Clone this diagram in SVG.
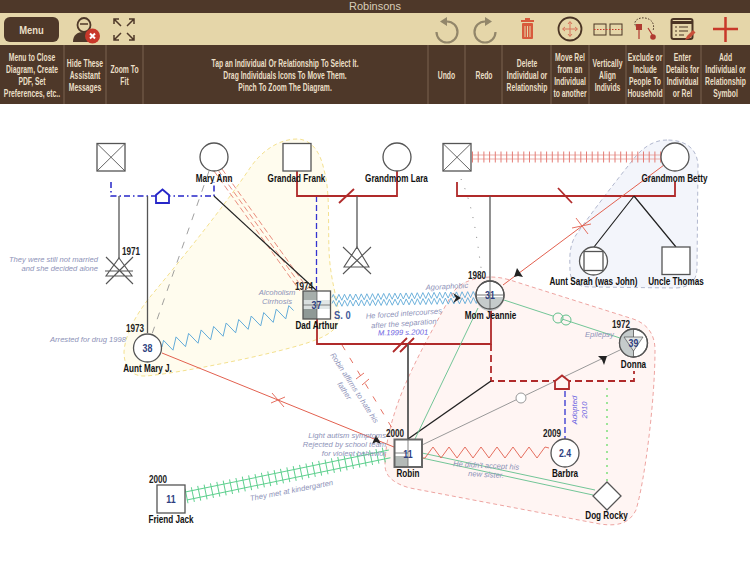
<svg xmlns="http://www.w3.org/2000/svg" width="750" height="563" viewBox="0 0 750 563">
<style>
text{font-family:"Liberation Sans",Arial,sans-serif}
.h{font-size:10px;font-weight:700;fill:#eadfc6;text-anchor:middle}
.l{font-size:11px;font-weight:700;fill:#111;text-anchor:middle}
.y{font-size:11px;font-weight:700;fill:#222}
.n{font-size:11px;font-weight:700;fill:#2f3f80;text-anchor:middle}
.c{font-size:7.6px;font-style:italic;fill:#8d92b8}
.s{fill:#fff;stroke:#555;stroke-width:1.3}
.x{stroke:#555;stroke-width:.9;fill:none}
.red{fill:none;stroke:#b02a2a;stroke-width:1.8}
.blk{fill:none;stroke:#222;stroke-width:1.2}
.gry{fill:none;stroke:#555;stroke-width:1.3}
.tip{fill:#222}
.wave{fill:none;stroke:#62abd8;stroke-width:.9}
</style>
<defs>
<path id="wv" d="M0 0l1.4-3l2.8 6l2.8-6l2.8 6l2.8-6l2.8 6l2.8-6l2.8 6l2.8-6l2.8 6l2.8-6l2.8 6l2.8-6l2.8 6l2.8-6l2.8 6l2.8-6l2.8 6l2.8-6l2.8 6l2.8-6l2.8 6l2.8-6l2.8 6l2.8-6l2.8 6l2.8-6l2.8 6l2.8-6l2.8 6l2.8-6l2.8 6l2.8-6l2.8 6l2.8-6l2.8 6l2.8-6l2.8 6l2.8-6l2.8 6l2.8-6l2.8 6l2.8-6l2.8 6l2.8-6l2.8 6l2.8-6l2.8 6l2.8-6l2.8 6l2.8-6l2.8 6l2.8-6"/>
</defs>
<rect width="750" height="563" fill="#fff"/>

<g id="toolbar">
<rect width="750" height="13" fill="#4e3829"/>
<text x="375" y="10" text-anchor="middle" font-size="11" fill="#d8cdb8">Robinsons</text>
<rect y="13" width="750" height="32" fill="#e5d6a9"/>
<rect y="45" width="750" height="59" fill="#4e3829"/>
<path d="M64 45V104M106 45V104M143 45V104M428 45V104M465 45V104M502 45V104M551 45V104M589 45V104M626 45V104M664 45V104M701 45V104" stroke="#7a6351" stroke-width="1"/>
<rect x="4" y="17" width="55" height="25" rx="6" fill="#4e3829"/>
<text transform="translate(31.500 34) scale(.82 1)" text-anchor="middle" font-size="11.500" font-weight="700" fill="#eadfc6">Menu</text>
<g>
<ellipse cx="84" cy="25" rx="6.500" ry="7" fill="#e5d6a9" stroke="#4e3829" stroke-width="1.800"/>
<path d="M80 24h8" stroke="#4e3829" stroke-width="1.500"/>
<path d="M73 42c0-7 4-10 11-10s11 3 11 10z" fill="#4e3829"/>
<circle cx="92.500" cy="36" r="7.500" fill="#c8382a"/>
<path d="M90 33.500l5 5M95 33.500l-5 5" stroke="#fff" stroke-width="2"/>
</g>
<path d="M114 19l7 7M114 24v-5h5M134 19l-7 7M134 24v-5h-5M114 40l7-7M114 35v5h5M134 40l-7-7M134 35v5h-5" stroke="#4e3829" stroke-width="1.500" fill="none"/>
<path d="M447 21.500A10.500 10.500 0 1 1 436.500 32M485 21.500A10.500 10.500 0 1 0 495.500 32" fill="none" stroke="#92866a" stroke-width="2.200"/>
<path d="M447 17v9l-7-4.500zM485 17v9l7-4.500z" fill="#92866a"/>
<rect x="522" y="23" width="11" height="16" rx="1" fill="#d85a3c"/>
<path d="M521 21h13M525 19h5" stroke="#d85a3c" stroke-width="2"/>
<path d="M525 26v11M527.500 26v11M530 26v11" stroke="#e5d6a9" stroke-width="1"/>
<circle cx="570" cy="29" r="11.500" fill="none" stroke="#4a3424" stroke-width="1.800"/>
<path d="M570 22v14M563 29h14M568 24l2-2.500l2 2.500M568 34l2 2.500l2-2.500M565 27l-2.500 2l2.500 2M575 27l2.500 2l-2.500 2" fill="none" stroke="#d8735a" stroke-width="1"/>
<rect x="594" y="24" width="12" height="11" fill="none" stroke="#4a3424"/>
<rect x="610" y="24" width="12" height="11" fill="none" stroke="#4a3424"/>
<path d="M594 29.500h28" stroke="#c8382a" stroke-dasharray="1.500 1.500"/>
<path d="M637 28c-6-7 2-11 8-10c7 1 10 6 8 13" fill="none" stroke="#4a3424" stroke-dasharray="1.500 1.500"/>
<rect x="636" y="24" width="6" height="6" fill="#b03a30"/>
<path d="M639 30v9M648 28l5 8" stroke="#b03a30" stroke-width="1.200"/>
<circle cx="653" cy="37" r="2.800" fill="#b03a30"/>
<rect x="671.500" y="19" width="21" height="20" rx="2" fill="#e5d6a9" stroke="#4a3424" stroke-width="2"/>
<path d="M671.500 22.500h21" stroke="#4a3424" stroke-width="3"/>
<path d="M675 27h2M679 27h9M675 31h2M679 31h9M675 35h2M679 35h5" stroke="#4a3424" stroke-width="1.200"/>
<path d="M685 40l2-4l6-6l2.500 2.500l-6 6z" fill="#c8503a"/>
<path d="M713 29h25M725.500 17v25" stroke="#c8382a" stroke-width="2.500"/>
<text class="h" transform="translate(32 60.500) scale(.68 1)">Menu to Close</text>
<text class="h" transform="translate(32 72.500) scale(.68 1)">Diagram, Create</text>
<text class="h" transform="translate(32 84.500) scale(.68 1)">PDF, Set</text>
<text class="h" transform="translate(32 96.500) scale(.68 1)">Preferences, etc..</text>
<text class="h" transform="translate(85 66.500) scale(.68 1)">Hide These</text>
<text class="h" transform="translate(85 78.500) scale(.68 1)">Assistant</text>
<text class="h" transform="translate(85 90.500) scale(.68 1)">Messages</text>
<text class="h" transform="translate(124.500 72.500) scale(.68 1)">Zoom To</text>
<text class="h" transform="translate(124.500 84.500) scale(.68 1)">Fit</text>
<text class="h" transform="translate(285 66.500) scale(.68 1)">Tap an Individual Or Relationship To Select It.</text>
<text class="h" transform="translate(285 78.500) scale(.68 1)">Drag Individuals Icons To Move Them.</text>
<text class="h" transform="translate(285 90.500) scale(.68 1)">Pinch To Zoom The Diagram.</text>
<text class="h" transform="translate(446.500 78.500) scale(.68 1)">Undo</text>
<text class="h" transform="translate(484 78.500) scale(.68 1)">Redo</text>
<text class="h" transform="translate(527 66.500) scale(.68 1)">Delete</text>
<text class="h" transform="translate(527 78.500) scale(.68 1)">Individual or</text>
<text class="h" transform="translate(527 90.500) scale(.68 1)">Relationship</text>
<text class="h" transform="translate(570 60.500) scale(.68 1)">Move Rel</text>
<text class="h" transform="translate(570 72.500) scale(.68 1)">from an</text>
<text class="h" transform="translate(570 84.500) scale(.68 1)">Individual</text>
<text class="h" transform="translate(570 96.500) scale(.68 1)">to another</text>
<text class="h" transform="translate(607.500 66.500) scale(.68 1)">Vertically</text>
<text class="h" transform="translate(607.500 78.500) scale(.68 1)">Align</text>
<text class="h" transform="translate(607.500 90.500) scale(.68 1)">Individs</text>
<text class="h" transform="translate(645 60.500) scale(.68 1)">Exclude or</text>
<text class="h" transform="translate(645 72.500) scale(.68 1)">Include</text>
<text class="h" transform="translate(645 84.500) scale(.68 1)">People To</text>
<text class="h" transform="translate(645 96.500) scale(.68 1)">Household</text>
<text class="h" transform="translate(682.500 60.500) scale(.68 1)">Enter</text>
<text class="h" transform="translate(682.500 72.500) scale(.68 1)">Details for</text>
<text class="h" transform="translate(682.500 84.500) scale(.68 1)">Individual</text>
<text class="h" transform="translate(682.500 96.500) scale(.68 1)">or Rel</text>
<text class="h" transform="translate(725.500 60.500) scale(.68 1)">Add</text>
<text class="h" transform="translate(725.500 72.500) scale(.68 1)">Individual or</text>
<text class="h" transform="translate(725.500 84.500) scale(.68 1)">Relationship</text>
<text class="h" transform="translate(725.500 96.500) scale(.68 1)">Symbol</text>
</g>

<g id="households">
<path d="M297 139C280 139 262 150 250 168C225 205 185 255 150 297C135 316 125 335 124 352C124 368 132 377 146 376C180 373 270 355 307 343C325 337 340 330 339 316C338 300 330 280 329 250C328 220 330 190 324 170C320 150 310 139 297 139Z" fill="#fffcee" stroke="#f2dc82" stroke-dasharray="4 3" stroke-width=".9"/>
<path d="M667 140C655 140 645 146 636 156C615 182 590 215 576 235C568 247 570 262 570 272C571 282 578 287 590 287L675 288C690 288 697 280 697 268L698 165C697 148 685 140 667 140Z" fill="#f3f5fb" stroke="#a9b0c8" stroke-dasharray="4 3" stroke-width=".9"/>
<path d="M490 277C470 278 458 284 452 294C435 325 418 355 405 385C395 408 385 440 385 465C385 477 395 484 410 488L600 524C620 527 630 522 636 510C645 480 655 400 655 350C655 332 645 322 630 318L510 280C503 278 497 277 490 277Z" fill="#fff5f3" stroke="#eb9a96" stroke-dasharray="4 3" stroke-width=".9"/>
</g>

<g id="connectors">
<path d="M111 182V196H214V182" fill="none" stroke="#2626c8" stroke-width="1.500" stroke-dasharray="6 3 1.500 3"/>
<path d="M119 196V258" class="gry"/>
<path d="M147.500 196V333" class="gry"/>
<path d="M209 171L152 334" fill="none" stroke="#888" stroke-width=".8" stroke-dasharray="7 8"/>
<g fill="none" stroke="#e2705f" stroke-width=".8" stroke-dasharray="6 3">
<path d="M214 171L300 291"/><path d="M218 170L304 290"/><path d="M222 169L308 289"/>
</g>
<path d="M214 196L317 291" class="blk"/>
<path d="M316.500 196V290" fill="none" stroke="#3434d0" stroke-width="1.300" stroke-dasharray="6 3"/>
<path d="M297 171V196H397V171" class="red"/>
<path d="M339 203L354 189" class="red"/>
<path d="M357 196V247" class="gry"/>
<path d="M457 182V196H675V182" class="red"/>
<path d="M558 188L572 203" class="red"/>
<path d="M490 196V281" class="gry"/>
<path d="M634 196L594 247M634 196L676 247" class="blk"/>
<path d="M461 179C475 210 478 250 483 281" fill="none" stroke="#888" stroke-width="1" stroke-dasharray="1 9"/>
<path d="M472 155H661M472 159H661" stroke="#eaa6a0" stroke-width=".9"/>
<path d="M472 157H661" stroke="#e47d76" stroke-width="11" stroke-dasharray="1 4.700"/>
<path d="M664 165L503 285" fill="none" stroke="#e2604f" stroke-width="1"/>
<path d="M576 218L588 234M572 228L591 224" fill="none" stroke="#e2604f" stroke-width=".9"/>
<polygon class="tip" points="517,268 523,277 518,276 514,277"/>
<path d="M317 319V344H491V310" class="red"/>
<path d="M393 352L407 338M400 352L414 338" class="red"/>
<path d="M408 344V439" fill="none" stroke="#555" stroke-width="1.800"/>
<path d="M491 344V381H634V371" fill="none" stroke="#b02a2a" stroke-width="1.800" stroke-dasharray="7 4"/>
<path d="M491 381L408 439" class="blk" style="stroke-width:1.400"/>
<path d="M422 445L620 350" fill="none" stroke="#999" stroke-width="1"/>
<circle cx="521" cy="398" r="5" fill="#fff" stroke="#999"/>
<polygon class="tip" points="598,356 607,356 604,365 602,360"/>
<path d="M565 391V440" fill="none" stroke="#3434d0" stroke-width="1.300" stroke-dasharray="6 3"/>
<path d="M504 300L620 338" fill="none" stroke="#62c08c" stroke-width=".9"/>
<circle cx="558" cy="318" r="5" fill="#fff5f3" stroke="#62c08c"/>
<circle cx="566" cy="320" r="5" fill="none" stroke="#62c08c"/>
<path d="M478 308L415 439" fill="none" stroke="#62c08c" stroke-width=".9"/>
<path d="M422 453L595 490M422 458L593 495" fill="none" stroke="#62c08c" stroke-width=".9"/>
<path d="M422 458l3 0l8-11l8 11l8-11l8 11l8-11l8 11l8-11l8 11l8-11l8 11l8-11l8 11l8-11l8 11l8-11l4 1" fill="none" stroke="#e2604f" stroke-width=".9"/>
<path d="M607 388V482" fill="none" stroke="#4fd84f" stroke-width="1.100" stroke-dasharray="2 5"/>
<path d="M162 353L394 447" fill="none" stroke="#e2604f" stroke-width="1"/>
<path d="M272 393L284 407M271 403L285 397" fill="none" stroke="#e2604f" stroke-width=".9"/>
<polygon class="tip" points="376,435 381,444 376,442 372,444"/>
<path d="M342 345L392 428" fill="none" stroke="#e2604f" stroke-width=".9" stroke-dasharray="6 9"/>
<path d="M356 379L364 373M362 385L369 379" fill="none" stroke="#e2604f" stroke-width=".9"/>
<g transform="translate(162 347) rotate(-15.500)"><path class="wave" d="M0 0l3.250-6l6.500 12l6.500-12l6.500 12l6.500-12l6.500 12l6.500-12l6.500 12l6.500-12l6.500 12l6.500-12l6.500 12l6.500-12l6.500 12l6.500-12l6.500 12l6.500-12l6.500 12l6.500-12l6.500 12l6.500-12l3.250 6"/></g>
<g transform="translate(332 300.500) rotate(-1.200)">
<use href="#wv" class="wave" y="-3"/>
<use href="#wv" class="wave" y="3"/>
</g>
<polygon class="tip" points="453,293 461,298 453,303 456,298"/>
<g transform="translate(186 496) rotate(-11.700)">
<path d="M0-4H208M0 4H208" stroke="#5fd08f" stroke-width="1"/>
<path d="M0 0H208" stroke="#5fd08f" stroke-width="15" stroke-dasharray="1 5.500"/>
</g>
</g>

<g id="house-blue"><path d="M156 203V195L162.500 189.500L169 195V203Z" fill="#fff" stroke="#2626c8" stroke-width="1.800"/></g>
<g id="house-red"><path d="M555 389V381L562 375.500L569 381V389Z" fill="#fff5f3" stroke="#b02a2a" stroke-width="1.800"/></g>

<g id="node-unknown-1"><rect class="s" x="97" y="143.500" width="28" height="27.500"/><path class="x" d="M97 143.500L125 171M125 143.500L97 171"/></g>
<g id="node-mary-ann"><circle class="s" cx="214" cy="157" r="14"/><text class="l" transform="translate(214 182) scale(.74 1)">Mary Ann</text></g>
<g id="node-frank"><rect class="s" x="283" y="143.500" width="28" height="27.500"/><text class="l" transform="translate(296.500 182) scale(.74 1)">Grandad Frank</text></g>
<g id="node-lara"><circle class="s" cx="397" cy="157" r="14"/><text class="l" transform="translate(396.500 182) scale(.74 1)">Grandmom Lara</text></g>
<g id="node-unknown-2"><rect class="s" x="443" y="143.500" width="28" height="27.500"/><path class="x" d="M443 143.500L471 171M471 143.500L443 171"/></g>
<g id="node-betty"><circle class="s" cx="675" cy="157" r="14"/><text class="l" transform="translate(674.500 182) scale(.74 1)">Grandmom Betty</text></g>
<g id="node-sarah"><circle class="s" cx="593.500" cy="261" r="14"/><rect class="s" x="584" y="251.500" width="19" height="19"/><text class="l" transform="translate(593.500 285) scale(.74 1)">Aunt Sarah (was John)</text></g>
<g id="node-thomas"><rect class="s" x="662" y="247" width="28" height="27.500"/><text class="l" transform="translate(676 285) scale(.74 1)">Uncle Thomas</text></g>
<g id="node-abortion-1"><path class="x" style="stroke-width:1.100" d="M119 258L132 276H106ZM105 271H133M106 257L133 284M133 257L106 284"/><text class="y" transform="translate(122 255) scale(.74 1)">1971</text></g>
<g id="node-abortion-2"><path class="x" style="stroke-width:1.100" d="M357 247L369 267H344ZM343 247L371 274M371 247L343 274"/></g>
<g id="node-mary-j"><circle class="s" cx="147.500" cy="348" r="14"/><text class="n" transform="translate(147.500 352) scale(.8 1)">38</text><text class="y" transform="translate(126 332) scale(.74 1)">1973</text><text class="l" transform="translate(147.500 372) scale(.74 1)">Aunt Mary J.</text></g>
<g id="node-arthur">
<rect x="303" y="291" width="27.500" height="28" fill="#fff"/>
<rect x="303" y="291" width="14" height="28" fill="#a6aeab"/>
<rect x="303" y="309" width="14" height="10" fill="#8f9996"/>
<rect x="303" y="300" width="27.500" height="9" fill="#dfe4e4" opacity=".9"/>
<rect x="303" y="291" width="27.500" height="28" fill="none" stroke="#555" stroke-width="1.300"/>
<path d="M317 291V319M303 305H331" stroke="#555" stroke-width=".7"/>
<text class="n" transform="translate(316.500 309) scale(.8 1)">37</text>
<text class="y" transform="translate(295 290) scale(.74 1)">1974</text>
<text transform="translate(334 319) scale(.85 1)" font-size="11" font-weight="700" fill="#3f5a9a">S. 0</text>
<text class="l" transform="translate(316.500 329) scale(.74 1)">Dad Arthur</text></g>
<g id="node-jeannie">
<circle class="s" cx="490" cy="295" r="14"/>
<path d="M476 297H504A14 14 0 0 1 476 297Z" fill="#c5cbcb"/>
<path d="M490 281V309M477 295H503" stroke="#555" stroke-width=".8"/>
<circle cx="490" cy="295" r="14" fill="none" stroke="#555" stroke-width="1.300"/>
<text class="n" transform="translate(490 299) scale(.8 1)">31</text>
<text class="y" transform="translate(468 279) scale(.74 1)">1980</text>
<text class="l" transform="translate(490.500 319) scale(.74 1)">Mom Jeannie</text></g>
<g id="node-donna">
<circle class="s" cx="633.500" cy="343" r="14"/>
<path d="M633.500 329A14 14 0 0 0 633.500 357Z" fill="#c5cbcb"/>
<path d="M633.500 329V357" stroke="#555" stroke-width=".8"/>
<path d="M624 337H643L633.500 351Z" fill="#dfe3e3" stroke="#555" stroke-width=".7"/>
<circle cx="633.500" cy="343" r="14" fill="none" stroke="#555" stroke-width="1.300"/>
<text class="n" transform="translate(633.500 347) scale(.8 1)">39</text>
<text class="y" transform="translate(612 328) scale(.74 1)">1972</text>
<text class="l" transform="translate(633.500 368) scale(.74 1)">Donna</text></g>
<g id="node-robin">
<rect x="394.500" y="439.500" width="27.500" height="27.500" fill="#fff"/>
<rect x="394.500" y="456" width="13.500" height="11" fill="#b4bab8"/>
<rect x="394.500" y="439.500" width="27.500" height="27.500" fill="none" stroke="#666" stroke-width="2"/>
<path d="M408 439V467M394 453H408" stroke="#666" stroke-width=".8"/>
<text class="n" transform="translate(408 458) scale(.8 1)">11</text>
<text class="y" transform="translate(386 437) scale(.74 1)">2000</text>
<text class="l" transform="translate(408 477) scale(.74 1)">Robin</text></g>
<g id="node-barbra"><circle class="s" cx="565" cy="453" r="14"/><text class="n" transform="translate(565 457) scale(.8 1)">2.4</text><text class="y" transform="translate(543 437) scale(.74 1)">2009</text><text class="l" transform="translate(565 477) scale(.74 1)">Barbra</text></g>
<g id="node-rocky"><path class="s" d="M607 482L621 496L607 510L593 496Z"/><text class="l" transform="translate(606.500 519) scale(.74 1)">Dog Rocky</text></g>
<g id="node-jack"><rect class="s" x="157" y="485" width="28" height="28"/><text class="n" transform="translate(171 503) scale(.8 1)">11</text><text class="y" transform="translate(149 483) scale(.74 1)">2000</text><text class="l" transform="translate(171 523) scale(.74 1)">Friend Jack</text></g>

<g id="notes">
<text class="c" x="98" y="262" text-anchor="end">They were still not married</text>
<text class="c" x="98" y="271" text-anchor="end">and she decided alone</text>
<text class="c" x="126" y="342" text-anchor="end">Arrested for drug 1998</text>
<text class="c" x="277" y="295" text-anchor="middle">Alcoholism</text>
<text class="c" x="277" y="304" text-anchor="middle">Cirrhosis</text>
<text class="c" x="447" y="289" text-anchor="middle" transform="rotate(-3 447 289)">Agoraphobic</text>
<text class="c" x="404" y="316" text-anchor="middle" transform="rotate(-4 404 316)">He forced intercourses</text>
<text class="c" x="404" y="326" text-anchor="middle" transform="rotate(-4 404 326)">after the separation</text>
<text class="c" x="403" y="335" text-anchor="middle" style="fill:#6a62e0" transform="rotate(-1 403 335)">M.1999 s.2001</text>
<text class="c" x="330" y="355" transform="rotate(57 330 355)">Robin affirms to hate his</text>
<text class="c" x="337" y="384" transform="rotate(57 337 384)">father</text>
<text class="c" x="386" y="438" text-anchor="end">Light autism symptoms</text>
<text class="c" x="386" y="447" text-anchor="end">Rejected by school team</text>
<text class="c" x="386" y="456" text-anchor="end">for violent behavior</text>
<text class="c" x="486" y="468" text-anchor="middle" transform="rotate(3 486 468)">He didn't accept his</text>
<text class="c" x="486" y="477" text-anchor="middle" transform="rotate(3 486 477)">new sister.</text>
<text class="c" x="585" y="337">Epilepsy</text>
<text class="c" x="292" y="493" text-anchor="middle" transform="rotate(-11 292 493)">They met at kindergarten</text>
<text class="c" x="577" y="410" text-anchor="middle" style="fill:#6a62e0" transform="rotate(-90 577 410)">Adopted</text>
<text class="c" x="587" y="410" text-anchor="middle" style="fill:#6a62e0" transform="rotate(-90 587 410)">2010</text>
</g>
</svg>
